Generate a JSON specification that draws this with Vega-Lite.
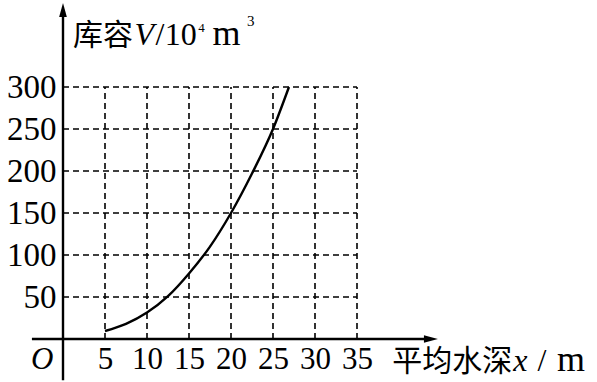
{
  "$schema": "https://vega.github.io/schema/vega-lite/v6.json",
  "autosize": "none",
  "width": 378,
  "height": 336,
  "padding": {"left": 63, "top": 3, "right": 156, "bottom": 43},
  "background": "white",
  "config": {"view": {"stroke": null}},
  "datasets": {
    "curve": [
      {"x": 5, "V": 9.5},
      {"x": 7.5, "V": 18},
      {"x": 10, "V": 31.5},
      {"x": 12.5, "V": 51},
      {"x": 15, "V": 78},
      {"x": 17.5, "V": 110},
      {"x": 20, "V": 150},
      {"x": 22.5, "V": 197},
      {"x": 25, "V": 250},
      {"x": 26.9, "V": 300}
    ],
    "gx": [{"g": 5}, {"g": 10}, {"g": 15}, {"g": 20}, {"g": 25}, {"g": 30}, {"g": 35}],
    "gy": [{"g": 50}, {"g": 100}, {"g": 150}, {"g": 200}, {"g": 250}, {"g": 300}]
  },
  "layer": [
    {
      "data": {"name": "gx"},
      "mark": {"type": "rule", "color": "black", "strokeWidth": 1.6, "strokeDash": [6, 4]},
      "encoding": {
        "x": {"field": "g", "type": "quantitative", "scale": {"domain": [0, 45], "nice": false, "zero": false},
          "axis": {"values": [5, 10, 15, 20, 25, 30, 35], "domain": false, "ticks": false, "grid": false, "title": null,
            "labelFont": "Liberation Serif", "labelFontSize": 31, "labelColor": "black", "labelPadding": 5, "labelFlush": false, "labelOverlap": false}},
        "y": {"datum": 0, "type": "quantitative", "scale": {"domain": [0, 400], "nice": false, "zero": false},
          "axis": {"values": [50, 100, 150, 200, 250, 300], "domain": false, "ticks": false, "grid": false, "title": null,
            "labelFont": "Liberation Serif", "labelFontSize": 33, "labelColor": "black", "labelPadding": 7, "labelFlush": false, "labelOverlap": false}},
        "y2": {"datum": 300}
      }
    },
    {
      "data": {"name": "gy"},
      "mark": {"type": "rule", "color": "black", "strokeWidth": 1.6, "strokeDash": [6, 4]},
      "encoding": {
        "y": {"field": "g", "type": "quantitative"},
        "x": {"datum": 0, "type": "quantitative"},
        "x2": {"datum": 35}
      }
    },
    {
      "data": {"name": "curve"},
      "mark": {"type": "line", "color": "black", "strokeWidth": 2.4, "interpolate": "monotone"},
      "encoding": {
        "x": {"field": "x", "type": "quantitative"},
        "y": {"field": "V", "type": "quantitative"}
      }
    },
    {
      "data": {"values": [{}]},
      "mark": {"type": "rule", "color": "black", "strokeWidth": 2.4},
      "encoding": {
        "x": {"datum": -3.7, "type": "quantitative"},
        "x2": {"datum": 43.5},
        "y": {"datum": 0, "type": "quantitative"}
      }
    },
    {
      "data": {"values": [{}]},
      "mark": {"type": "rule", "color": "black", "strokeWidth": 2.4},
      "encoding": {
        "x": {"datum": 0, "type": "quantitative"},
        "y": {"datum": -49, "type": "quantitative"},
        "y2": {"datum": 392}
      }
    },
    {
      "data": {"values": [{}]},
      "mark": {"type": "point", "filled": true, "color": "black", "opacity": 1, "size": 196, "shape": "M1,0L-1,-0.55L-1,0.55Z"},
      "encoding": {
        "x": {"datum": 43.8, "type": "quantitative"},
        "y": {"datum": 0, "type": "quantitative"}
      }
    },
    {
      "data": {"values": [{}]},
      "mark": {"type": "point", "filled": true, "color": "black", "opacity": 1, "size": 196, "shape": "M0,-1L-0.55,1L0.55,1Z"},
      "encoding": {
        "x": {"datum": 0, "type": "quantitative"},
        "y": {"datum": 391.7, "type": "quantitative"}
      }
    },
    {
      "data": {"values": [{"t": "O"}]},
      "mark": {"type": "text", "font": "Liberation Serif", "fontStyle": "italic", "fontSize": 31, "align": "left", "baseline": "alphabetic", "color": "black"},
      "encoding": {"x": {"datum": -3.8, "type": "quantitative"}, "y": {"datum": -36, "type": "quantitative"}, "text": {"field": "t"}}
    },
    {
      "data": {"values": [{"t": "库容"}]},
      "mark": {"type": "text", "font": "Noto Sans CJK SC", "fontSize": 30, "align": "left", "baseline": "alphabetic", "color": "black"},
      "encoding": {"x": {"datum": 1.2, "type": "quantitative"}, "y": {"datum": 350, "type": "quantitative"}, "text": {"field": "t"}}
    },
    {
      "data": {"values": [{"t": "V"}]},
      "mark": {"type": "text", "font": "Liberation Serif", "fontStyle": "italic", "fontSize": 32, "align": "left", "baseline": "alphabetic", "color": "black"},
      "encoding": {"x": {"datum": 8.5, "type": "quantitative"}, "y": {"datum": 350, "type": "quantitative"}, "text": {"field": "t"}}
    },
    {
      "data": {"values": [{"t": "/"}]},
      "mark": {"type": "text", "font": "Liberation Serif", "fontSize": 32, "align": "left", "baseline": "alphabetic", "color": "black"},
      "encoding": {"x": {"datum": 11.0, "type": "quantitative"}, "y": {"datum": 350, "type": "quantitative"}, "text": {"field": "t"}}
    },
    {
      "data": {"values": [{"t": "10"}]},
      "mark": {"type": "text", "font": "Liberation Serif", "fontSize": 32, "align": "left", "baseline": "alphabetic", "color": "black"},
      "encoding": {"x": {"datum": 12.1, "type": "quantitative"}, "y": {"datum": 350, "type": "quantitative"}, "text": {"field": "t"}}
    },
    {
      "data": {"values": [{"t": "4"}]},
      "mark": {"type": "text", "font": "Liberation Serif", "fontSize": 13, "align": "left", "baseline": "alphabetic", "color": "black"},
      "encoding": {"x": {"datum": 16.1, "type": "quantitative"}, "y": {"datum": 365, "type": "quantitative"}, "text": {"field": "t"}}
    },
    {
      "data": {"values": [{"t": "m"}]},
      "mark": {"type": "text", "font": "Liberation Serif", "fontSize": 36, "align": "left", "baseline": "alphabetic", "color": "black"},
      "encoding": {"x": {"datum": 17.8, "type": "quantitative"}, "y": {"datum": 350, "type": "quantitative"}, "text": {"field": "t"}}
    },
    {
      "data": {"values": [{"t": "3"}]},
      "mark": {"type": "text", "font": "Liberation Serif", "fontSize": 15, "align": "left", "baseline": "alphabetic", "color": "black"},
      "encoding": {"x": {"datum": 21.9, "type": "quantitative"}, "y": {"datum": 373, "type": "quantitative"}, "text": {"field": "t"}}
    },
    {
      "data": {"values": [{"t": "平均水深"}]},
      "mark": {"type": "text", "font": "Noto Sans CJK SC", "fontSize": 30, "align": "left", "baseline": "alphabetic", "color": "black", "letterSpacing": 1},
      "encoding": {"x": {"datum": 39.2, "type": "quantitative"}, "y": {"datum": -38, "type": "quantitative"}, "text": {"field": "t"}}
    },
    {
      "data": {"values": [{"t": "x"}]},
      "mark": {"type": "text", "font": "Liberation Serif", "fontStyle": "italic", "fontSize": 32, "align": "left", "baseline": "alphabetic", "color": "black"},
      "encoding": {"x": {"datum": 53.6, "type": "quantitative"}, "y": {"datum": -38, "type": "quantitative"}, "text": {"field": "t"}}
    },
    {
      "data": {"values": [{"t": "/"}]},
      "mark": {"type": "text", "font": "Liberation Serif", "fontSize": 32, "align": "left", "baseline": "alphabetic", "color": "black"},
      "encoding": {"x": {"datum": 56.5, "type": "quantitative"}, "y": {"datum": -38, "type": "quantitative"}, "text": {"field": "t"}}
    },
    {
      "data": {"values": [{"t": "m"}]},
      "mark": {"type": "text", "font": "Liberation Serif", "fontSize": 36, "align": "left", "baseline": "alphabetic", "color": "black"},
      "encoding": {"x": {"datum": 58.8, "type": "quantitative"}, "y": {"datum": -38, "type": "quantitative"}, "text": {"field": "t"}}
    }
  ]
}
